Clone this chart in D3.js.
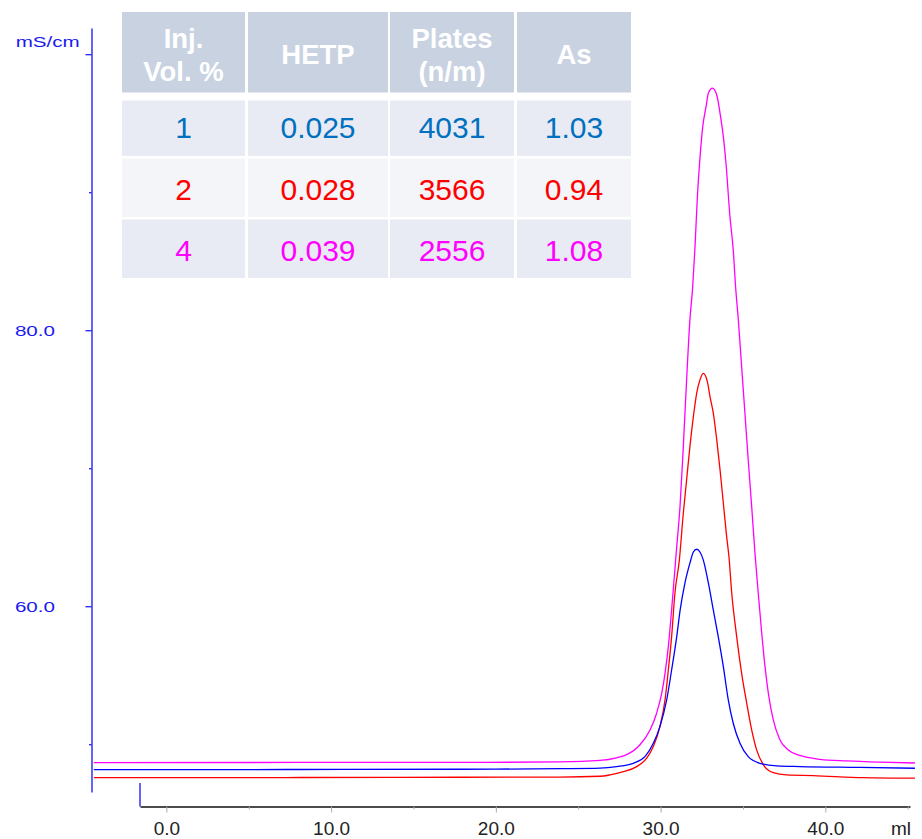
<!DOCTYPE html>
<html>
<head>
<meta charset="utf-8">
<script src="https://cdn.jsdelivr.net/npm/d3@7"></script>
<style>
  html, body { margin: 0; padding: 0; background: #ffffff; }
  svg { display: block; font-family: "Liberation Sans", Arial, sans-serif; }
</style>
</head>
<body>
<svg id="chart" width="922" height="839"></svg>
<script>
// Conductivity traces (ml, mS/cm) for three injection volumes
const trace1pct = [[-4.40,48.16],[8.11,48.17],[17.82,48.19],[23.89,48.23],[26.32,48.27],[27.33,48.38],[28.34,48.62],[29.05,49.10],[29.56,50.07],[29.96,51.28],[30.37,53.21],[30.67,55.38],[30.98,57.80],[31.18,59.66],[31.48,61.69],[31.78,63.12],[31.99,63.93],[32.19,64.13],[32.39,63.93],[32.59,63.36],[32.90,61.69],[33.20,59.73],[33.50,57.80],[33.81,55.62],[34.11,53.21],[34.41,51.52],[34.82,50.07],[35.32,49.10],[36.03,48.62],[37.05,48.43],[38.46,48.38],[42.11,48.32],[45.44,48.26]];
const trace2pct = [[-4.40,47.58],[8.11,47.59],[17.82,47.61],[23.89,47.62],[26.32,47.68],[26.93,47.78],[27.74,48.01],[28.55,48.38],[29.16,48.99],[29.56,49.83],[29.96,51.28],[30.27,53.21],[30.47,55.38],[30.67,57.80],[30.87,60.94],[31.14,63.36],[31.38,66.74],[31.58,69.15],[31.78,71.57],[31.99,73.74],[32.19,75.43],[32.39,76.40],[32.59,76.88],[32.84,76.28],[33.00,75.19],[33.20,73.99],[33.41,72.05],[33.61,69.88],[33.81,67.46],[34.01,65.04],[34.15,63.59],[34.32,60.94],[34.62,57.80],[34.92,55.14],[35.23,52.97],[35.53,51.04],[35.83,49.59],[36.24,48.51],[36.84,47.94],[37.66,47.78],[39.27,47.73],[42.31,47.58],[45.44,47.54]];
const trace4pct = [[-4.40,48.67],[8.11,48.68],[17.82,48.68],[23.89,48.72],[26.32,48.83],[27.33,49.02],[27.94,49.25],[28.34,49.52],[28.75,49.96],[29.36,51.03],[29.76,52.25],[30.07,53.70],[30.27,55.14],[30.47,57.07],[30.67,59.73],[30.98,64.32],[31.18,67.22],[31.38,71.57],[31.58,76.40],[31.78,80.75],[31.95,83.16],[32.09,86.06],[32.23,89.57],[32.39,92.46],[32.56,94.75],[32.76,96.20],[32.90,97.17],[33.14,97.54],[33.41,97.05],[33.61,95.72],[33.81,94.03],[33.97,92.10],[34.21,88.23],[34.41,85.82],[34.56,83.04],[34.72,80.75],[34.92,77.36],[35.12,73.99],[35.32,70.60],[35.53,67.22],[35.73,63.84],[35.93,60.94],[36.14,58.04],[36.34,55.62],[36.54,53.70],[36.84,51.76],[37.25,50.31],[37.75,49.58],[38.46,49.19],[39.68,48.91],[41.30,48.79],[43.32,48.70],[45.44,48.64]];

const traceColors = ["#0000ff", "#ff0000", "#ff00ff"];

// Axis ticks
const xMajorTicks = [0, 10, 20, 30, 40];
const xMinorTicks = [5, 15, 25, 35, 45];
const yMajorTicks = [60, 80, 100];
const yMinorTicks = [50, 70, 90];
const yLabelledTicks = [60, 80];
const injectionAt = -1.6;

// Results table
const tableHeader = [["Inj.", "Vol. %"], ["HETP"], ["Plates", "(n/m)"], ["As"]];
const injVolumes = ["1", "2", "4"];
const hetpValues = ["0.025", "0.028", "0.039"];
const plateValues = ["4031", "3566", "2556"];
const asValues = ["1.03", "0.94", "1.08"];
const tableTextColors = ["#0070c0", "#ff0000", "#ff00ff"];

const svg = d3.select("#chart");

const x = d3.scaleLinear().domain([-1.6, 45.14]).range([140, 910]);
const y = d3.scaleLinear().domain([46.54, 101.9]).range([792, 28]);

// Y axis (blue)
const yAxisX = 91.5;
const yG = svg.append("g").attr("transform", `translate(${yAxisX},0)`);
yG.call(d3.axisLeft(y).tickValues(yMajorTicks).tickSize(6).tickSizeOuter(0)
  .tickFormat(d => yLabelledTicks.includes(d) ? d3.format(".1f")(d) : ""));
yG.append("g").call(d3.axisLeft(y).tickValues(yMinorTicks).tickSize(2.5).tickSizeOuter(0).tickFormat(""))
  .select(".domain").remove();
yG.selectAll(".domain").attr("stroke", "#1010f0").attr("stroke-width", 1.3);
yG.selectAll(".tick line").attr("stroke", "#1010f0").attr("stroke-width", 1.2);
yG.selectAll(".tick text")
  .attr("x", -36.5 / 1.33).attr("dy", "0.37em")
  .attr("transform", "scale(1.33,1)")
  .attr("fill", "#1a1af0").attr("font-size", 15.5)
  .attr("font-family", "Liberation Sans, Arial, sans-serif");

svg.append("text")
  .attr("transform", "translate(15.7,46.5) scale(1.33,1)")
  .attr("font-size", 15.5).attr("fill", "#1a1af0")
  .text("mS/cm");

// X axis
const xAxisY = 806.5;
const xG = svg.append("g").attr("transform", `translate(0,${xAxisY})`);
xG.call(d3.axisBottom(x).tickValues(xMajorTicks).tickSize(6).tickSizeOuter(0)
  .tickFormat(d3.format(".1f")));
xG.append("g").call(d3.axisBottom(x).tickValues(xMinorTicks).tickSize(3).tickSizeOuter(0).tickFormat(""))
  .select(".domain").remove();
xG.selectAll(".domain").attr("stroke", "#111").attr("stroke-width", 1.3);
xG.selectAll(".tick line").attr("stroke", "#aaaaaa").attr("stroke-width", 1);
xG.selectAll(".tick text")
  .attr("y", 15).attr("dy", "0.71em")
  .attr("font-size", 19).attr("fill", "#222")
  .attr("font-family", "Liberation Sans, Arial, sans-serif");

svg.append("text").attr("x", 891).attr("y", 834.5)
  .attr("font-size", 19).attr("fill", "#222").text("ml");

// Injection marker
svg.append("line")
  .attr("x1", x(injectionAt)).attr("x2", x(injectionAt))
  .attr("y1", 783).attr("y2", xAxisY)
  .attr("stroke", "#1010f0").attr("stroke-width", 1.3);

// Traces
const line = d3.line().x(d => x(d[0])).y(d => y(d[1])).curve(d3.curveMonotoneX);
const traces = [trace4pct, trace2pct, trace1pct];
const traceStroke = [traceColors[2], traceColors[1], traceColors[0]];
svg.append("g").selectAll("path").data(traces).join("path")
  .attr("d", line)
  .attr("fill", "none")
  .attr("stroke", (d, i) => traceStroke[i])
  .attr("stroke-width", 1.3);

// Table
const colBounds = [[122, 245], [248, 388], [390, 514], [517, 631]];
const rowBounds = [[12, 92.5], [100.5, 156], [158.5, 217], [219.5, 278]];
const rowFills = ["#c8d2e1", "#e8ebf3", "#f4f5f8", "#e8ebf3"];
const table = svg.append("g");

rowBounds.forEach((rb, ri) => {
  colBounds.forEach(cb => {
    table.append("rect")
      .attr("x", cb[0]).attr("y", rb[0])
      .attr("width", cb[1] - cb[0]).attr("height", rb[1] - rb[0])
      .attr("fill", rowFills[ri]);
  });
});

tableHeader.forEach((lines, ci) => {
  const cx = (colBounds[ci][0] + colBounds[ci][1]) / 2;
  const baselines = lines.length === 2 ? [47.5, 81] : [64.3];
  lines.forEach((t, li) => {
    table.append("text")
      .attr("x", cx).attr("y", baselines[li])
      .attr("text-anchor", "middle")
      .attr("font-size", 27.5).attr("font-weight", "bold")
      .attr("fill", "#ffffff").text(t);
  });
});

const bodyCols = [injVolumes, hetpValues, plateValues, asValues];
const bodyBaselines = [138.3, 200, 261];
bodyCols.forEach((col, ci) => {
  const cx = (colBounds[ci][0] + colBounds[ci][1]) / 2;
  col.forEach((t, ri) => {
    table.append("text")
      .attr("x", cx).attr("y", bodyBaselines[ri])
      .attr("text-anchor", "middle")
      .attr("font-size", 30)
      .attr("fill", tableTextColors[ri]).text(t);
  });
});
</script>
</body>
</html>
